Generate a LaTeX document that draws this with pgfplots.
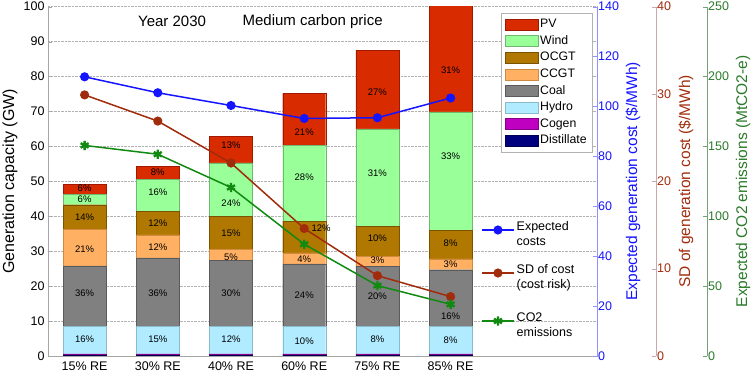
\documentclass[border=0pt]{standalone}
\usepackage{pgfplots}
\pgfplotsset{compat=1.18}
\usepackage{fontspec}
\setmainfont{Liberation Sans}
\definecolor{pvf}{HTML}{D92B00}\definecolor{pvd}{HTML}{A01800}
\definecolor{wif}{HTML}{99FF99}\definecolor{wid}{HTML}{70B870}
\definecolor{ocf}{HTML}{B07800}\definecolor{ocd}{HTML}{7A5200}
\definecolor{ccf}{HTML}{FFB063}\definecolor{ccd}{HTML}{D08A40}
\definecolor{cof}{HTML}{808080}\definecolor{cod}{HTML}{5A5A5A}
\definecolor{hyf}{HTML}{B0EBFF}\definecolor{hyd}{HTML}{88BCCC}
\definecolor{cgf}{HTML}{C000C0}\definecolor{cgd}{HTML}{880088}
\definecolor{dif}{HTML}{00007F}\definecolor{did}{HTML}{000050}
\definecolor{bl}{HTML}{1414FF}\definecolor{bll}{HTML}{9090FF}
\definecolor{rd}{HTML}{A02C0C}\definecolor{rdl}{HTML}{C8A8A8}
\definecolor{gr}{HTML}{108A10}\definecolor{grl}{HTML}{78A078}
\definecolor{grt}{HTML}{2A7A2A}
\newcommand{\tf}{\fontsize{12.5}{15}\selectfont}
\newcommand{\lf}{\fontsize{15.5}{18}\selectfont}
\tikzset{pct/.style={font=\fontsize{9.5}{10}\selectfont, text=black, inner sep=0pt}}
\pgfplotsset{
  common/.style={at={(0,0)}, anchor=south west, scale only axis, height=349.3pt,
    xmin=-0.5, ymin=0, ticklabel style={font=\tf},
    /pgf/number format/assume math mode=true, tick align=inside, major tick length=4pt},
  sideaxis/.style={common, axis x line=none, axis y line*=right,
    yticklabel style={inner sep=1pt},
    legend style={draw=none, fill=none, anchor=west, inner sep=0pt, font=\fontsize{12.5}{15}\selectfont, nodes={inner sep=2pt}},
    legend image code/.code={\draw[mark repeat=2,mark phase=2,##1] plot coordinates {(0pt,0pt) (16pt,0pt) (32pt,0pt)};}},
}
\begin{document}
\begin{tikzpicture}
\begin{axis}[common, name=main, width=549pt, xmax=7, ymax=100,
  ybar stacked, bar width=43pt,
  axis x line*=bottom, axis y line*=left,
  axis line style={draw=gray!70, line width=0.8pt},
  xtick={0,...,5}, xticklabels={15\% RE,30\% RE,40\% RE,60\% RE,75\% RE,85\% RE},
  x tick style={draw=none}, xticklabel style={yshift=-2pt},
  ytick={0,10,...,100}, y tick style={draw=gray!70},
  ymajorgrids, grid style={densely dotted, gray!60},
  ylabel={Generation capacity (GW)},
  every axis y label/.style={at={(rel axis cs:0,0.5)}, xshift=-38pt, rotate=90, anchor=center, font=\fontsize{16}{18}\selectfont},
  reverse legend, legend cell align=left,
  legend style={at={(rel axis cs:0.991,0.982)}, anchor=north east, draw=gray!60, fill=white,
    font=\fontsize{12.3}{14}\selectfont, row sep=0pt, inner sep=3pt,
    nodes={inner sep=2.2pt, text height=9.4pt, text depth=2.8pt}},
  legend image code/.code={\draw[#1] (0pt,-5.5pt) rectangle (33pt,5.5pt);},
]
\addplot[fill=dif, draw=did] coordinates {(0,0.1) (1,0.1) (2,0.1) (3,0.1) (4,0.1) (5,0.1)};
\addplot[fill=cgf, draw=cgd] coordinates {(0,0.5) (1,0.5) (2,0.5) (3,0.5) (4,0.5) (5,0.5)};
\addplot[fill=hyf, draw=hyd] coordinates {(0,7.9) (1,7.9) (2,7.9) (3,7.9) (4,7.9) (5,7.9)};
\addplot[fill=cof, draw=cod] coordinates {(0,17.3) (1,19.6) (2,18.8) (3,17.9) (4,17.2) (5,16.2)};
\addplot[fill=ccf, draw=ccd] coordinates {(0,10.4) (1,6.6) (2,3.2) (3,3.1) (4,2.9) (5,3.1)};
\addplot[fill=ocf, draw=ocd] coordinates {(0,7.1) (1,6.7) (2,9.4) (3,9.1) (4,8.6) (5,8.2)};
\addplot[fill=wif, draw=wid] coordinates {(0,2.9) (1,9.1) (2,15.4) (3,21.7) (4,27.8) (5,33.9)};
\addplot[fill=pvf, draw=pvd] coordinates {(0,3.0) (1,3.8) (2,7.6) (3,14.9) (4,22.6) (5,32.0)};
\legend{Distillate,Cogen,Hydro,Coal,CCGT,OCGT,Wind,PV}
\end{axis}
% overlay axis for segment labels and titles (same scale as main)
\begin{axis}[common, width=549pt, xmax=7, ymax=100, hide axis]
\node[pct] at (axis cs:0,4.8) {16\%};
\node[pct] at (axis cs:0,18.0) {36\%};
\node[pct] at (axis cs:0,30.6) {21\%};
\node[pct] at (axis cs:0,39.7) {14\%};
\node[pct] at (axis cs:0,44.9) {6\%};
\node[pct] at (axis cs:0,47.9) {6\%};
\node[pct] at (axis cs:1,4.8) {15\%};
\node[pct] at (axis cs:1,18.0) {36\%};
\node[pct] at (axis cs:1,31.1) {12\%};
\node[pct] at (axis cs:1,38.0) {12\%};
\node[pct] at (axis cs:1,46.8) {16\%};
\node[pct] at (axis cs:1,52.6) {8\%};
\node[pct] at (axis cs:2,4.8) {12\%};
\node[pct] at (axis cs:2,18.0) {30\%};
\node[pct] at (axis cs:2,28.4) {5\%};
\node[pct] at (axis cs:2,35.0) {15\%};
\node[pct] at (axis cs:2,43.6) {24\%};
\node[pct] at (axis cs:2,60.2) {13\%};
\node[pct] at (axis cs:3,4.3) {10\%};
\node[pct] at (axis cs:3,17.3) {24\%};
\node[pct] at (axis cs:3,27.6) {4\%};
\node[pct] at (axis cs:3.23,36.6) {12\%};
\node[pct] at (axis cs:3,51.3) {28\%};
\node[pct] at (axis cs:3,64.2) {21\%};
\node[pct] at (axis cs:4,4.8) {8\%};
\node[pct] at (axis cs:4,17.2) {20\%};
\node[pct] at (axis cs:4,27.4) {3\%};
\node[pct] at (axis cs:4,33.7) {10\%};
\node[pct] at (axis cs:4,52.4) {31\%};
\node[pct] at (axis cs:4,75.5) {27\%};
\node[pct] at (axis cs:5,4.6) {8\%};
\node[pct] at (axis cs:5,11.5) {16\%};
\node[pct] at (axis cs:5,26.3) {3\%};
\node[pct] at (axis cs:5,32.4) {8\%};
\node[pct] at (axis cs:5,57.3) {33\%};
\node[pct] at (axis cs:5,81.7) {31\%};
\node[font=\fontsize{15}{18}\selectfont] at (axis cs:1.195,95.8) {Year 2030};
\node[font=\fontsize{15}{18}\selectfont] at (axis cs:3.115,95.8) {Medium carbon price};
\end{axis}
% blue axis: expected cost
\begin{axis}[sideaxis, width=549pt, xmax=7, ymax=140, ytick={0,20,...,140},
  y axis line style={draw=bll, line width=0.8pt}, y tick style={draw=bll},
  yticklabel style={text=bl},
  ylabel={Expected generation cost (\$/MWh)},
  every axis y label/.style={at={(rel axis cs:1,0.5)}, xshift=36pt, rotate=90, anchor=center, font=\lf, text=bl},
  legend style={at={(rel axis cs:0.7887,0.3607)}},
]
\addplot[bl, line width=1.5pt, mark=*, mark size=3.8pt, mark options={fill=bl}]
  coordinates {(0,111.9) (1,105.5) (2,100.4) (3,95.2) (4,95.5) (5,103.4)};
\addlegendentry{\begin{tabular}{@{}l@{}}Expected\\costs\end{tabular}}
\end{axis}
% red axis: SD of cost
\begin{axis}[sideaxis, width=608pt, xmax=7.806, ymax=40, ytick={0,10,...,40},
  y axis line style={draw=rdl, line width=0.8pt}, y tick style={draw=rdl},
  yticklabel style={text=rd},
  ylabel={SD of generation cost (\$/MWh)},
  every axis y label/.style={at={(rel axis cs:1,0.5)}, xshift=30pt, rotate=90, anchor=center, font=\lf, text=rd},
  legend style={at={(rel axis cs:0.7122,0.2376)}},
]
\addplot[rd, line width=1.5pt, mark=*, mark size=3.8pt, mark options={fill=rd}]
  coordinates {(0,29.9) (1,26.9) (2,22.1) (3,14.6) (4,9.2) (5,6.8)};
\addlegendentry{\begin{tabular}{@{}l@{}}SD of cost\\(cost risk)\end{tabular}}
\end{axis}
% green axis: CO2
\begin{axis}[sideaxis, width=659pt, xmax=8.5027, ymax=250, ytick={0,50,...,250},
  y axis line style={draw=grl, line width=0.8pt}, y tick style={draw=grl},
  yticklabel style={text=grt},
  ylabel={Expected CO2 emissions (MtCO2-e)},
  every axis y label/.style={at={(rel axis cs:1,0.5)}, xshift=36pt, rotate=90, anchor=center, font=\lf, text=grt},
  legend style={at={(rel axis cs:0.6571,0.1002)}},
]
\addplot[gr, line width=1.5pt, mark=asterisk, mark size=4.6pt, mark options={line width=2.3pt}]
  coordinates {(0,150.7) (1,144.4) (2,120.6) (3,80.0) (4,50.4) (5,37.0)};
\addlegendentry{\begin{tabular}{@{}l@{}}CO2\\emissions\end{tabular}}
\end{axis}
\pgfresetboundingbox
\path (-48pt,-23pt) rectangle (706pt,356pt);
\end{tikzpicture}
\end{document}
